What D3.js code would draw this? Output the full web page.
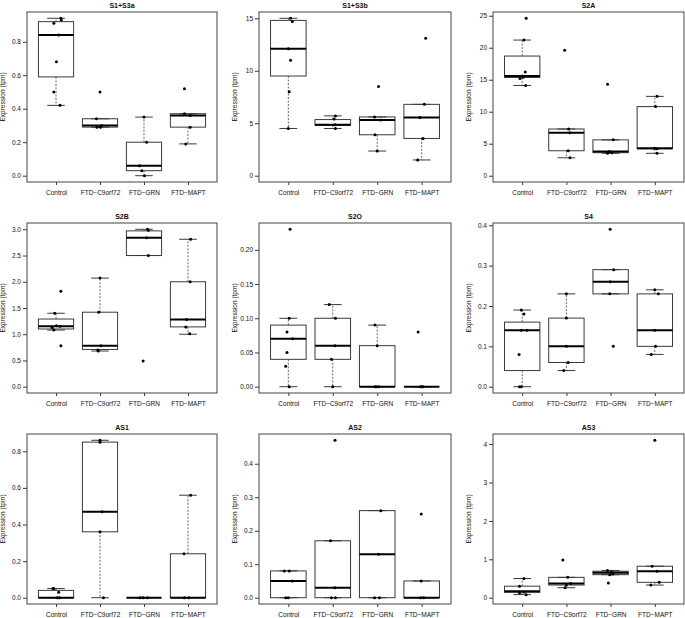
<!DOCTYPE html>
<html>
<head>
<meta charset="utf-8">
<script src="https://cdn.jsdelivr.net/npm/d3@7"></script>
<style>
  html, body { margin: 0; padding: 0; background: #fff; }
  svg { display: block; font-family: "Liberation Sans", Arial, Helvetica, sans-serif; }
</style>
</head>
<body>
<svg id="chart" width="685" height="618"></svg>
<script>
// ---------------- DATA ----------------
const categories = ["Control", "FTD\u2212C9orf72", "FTD\u2212GRN", "FTD\u2212MAPT"];
const panelTitles = ["S1+S3a", "S1+S3b", "S2A", "S2B", "S2O", "S4", "AS1", "AS2", "AS3"];
const yAxisLabel = "Expression (tpm)";

// tick values per panel
const ticks_S1S3a = [0, 0.2, 0.4, 0.6, 0.8];
const ticks_S1S3b = [0, 5, 10, 15];
const ticks_S2A = [0, 5, 10, 15, 20, 25];
const ticks_S2B = [0, 0.5, 1, 1.5, 2, 2.5, 3];
const ticks_S2O = [0, 0.05, 0.1, 0.15, 0.2];
const ticks_S4 = [0, 0.1, 0.2, 0.3, 0.4];
const ticks_AS1 = [0, 0.2, 0.4, 0.6, 0.8];
const ticks_AS2 = [0, 0.1, 0.2, 0.3, 0.4];
const ticks_AS3 = [0, 1, 2, 3, 4];
const tickDecimals = [1, 0, 0, 1, 2, 1, 1, 1, 0];

// box statistics per group: [lower whisker, Q1, median, Q3, upper whisker]
const stats_S1S3a = [[0.42, 0.59, 0.84, 0.92, 0.94], [0.29, 0.29, 0.30, 0.34, 0.34], [0.00, 0.03, 0.06, 0.20, 0.35], [0.19, 0.29, 0.36, 0.37, 0.37]];
const stats_S1S3b = [[4.5, 9.5, 12.1, 14.8, 15.0], [4.5, 4.8, 4.85, 5.35, 5.7], [2.35, 3.9, 5.3, 5.6, 5.6], [1.5, 3.55, 5.55, 6.8, 6.8]];
const stats_S2A = [[14.1, 15.35, 15.6, 18.7, 21.2], [2.8, 3.9, 6.7, 7.3, 7.3], [3.5, 3.6, 3.8, 5.6, 5.6], [3.5, 4.2, 4.3, 10.8, 12.4]];
const stats_S2B = [[1.08, 1.10, 1.15, 1.29, 1.40], [0.68, 0.71, 0.78, 1.42, 2.07], [2.5, 2.5, 2.84, 2.97, 3.0], [1.0, 1.14, 1.28, 2.0, 2.81]];
const stats_S2O = [[0, 0.04, 0.07, 0.09, 0.10], [0, 0.04, 0.06, 0.10, 0.12], [0, 0, 0, 0.06, 0.09], [0, 0, 0, 0, 0]];
const stats_S4 = [[0, 0.04, 0.14, 0.16, 0.19], [0.04, 0.06, 0.10, 0.17, 0.23], [0.23, 0.23, 0.26, 0.29, 0.29], [0.08, 0.10, 0.14, 0.23, 0.24]];
const stats_AS1 = [[0, 0, 0, 0.04, 0.05], [0, 0.36, 0.47, 0.85, 0.86], [0, 0, 0, 0, 0], [0, 0, 0, 0.24, 0.56]];
const stats_AS2 = [[0, 0, 0.05, 0.08, 0.08], [0, 0, 0.03, 0.17, 0.17], [0, 0, 0.13, 0.26, 0.26], [0, 0, 0, 0.05, 0.05]];
const stats_AS3 = [[0.08, 0.14, 0.17, 0.30, 0.50], [0.26, 0.33, 0.37, 0.53, 0.53], [0.60, 0.60, 0.65, 0.69, 0.71], [0.33, 0.40, 0.69, 0.82, 0.82]];

// individual samples per group
const points_S1S3a = [[0.94, 0.93, 0.91, 0.84, 0.68, 0.50, 0.42], [0.50, 0.34, 0.30, 0.29, 0.29], [0.35, 0.20, 0.06, 0.03, 0.00], [0.52, 0.37, 0.36, 0.29, 0.19]];
const points_S1S3b = [[15.0, 14.7, 12.1, 11.0, 8.0, 4.5], [5.7, 5.4, 4.85, 4.5], [8.5, 5.6, 5.3, 3.9, 2.35], [13.1, 6.8, 5.55, 3.55, 1.5]];
const points_S2A = [[24.6, 21.2, 16.2, 15.6, 15.4, 15.2, 14.1], [19.6, 7.3, 6.7, 3.9, 2.8], [14.3, 5.6, 3.8, 3.6, 3.5], [12.4, 10.8, 4.3, 4.2, 3.5]];
const points_S2B = [[1.82, 1.40, 1.16, 1.15, 1.13, 1.08, 0.78], [2.07, 1.42, 0.78, 0.70, 0.68], [3.0, 2.98, 2.84, 2.5, 0.49], [2.81, 2.0, 1.28, 1.14, 1.01]];
const points_S2O = [[0.23, 0.10, 0.08, 0.07, 0.05, 0.03, 0.00], [0.12, 0.10, 0.06, 0.04, 0.00], [0.09, 0.06, 0, 0, 0], [0.08, 0, 0, 0]];
const points_S4 = [[0.19, 0.18, 0.14, 0.14, 0.08, 0, 0], [0.23, 0.17, 0.10, 0.06, 0.04], [0.39, 0.29, 0.26, 0.23, 0.10], [0.24, 0.23, 0.14, 0.10, 0.08]];
const points_AS1 = [[0.05, 0.05, 0.03, 0, 0], [0.86, 0.85, 0.47, 0.36, 0], [0, 0, 0], [0.56, 0.24, 0, 0]];
const points_AS2 = [[0.08, 0.08, 0.05, 0, 0], [0.47, 0.17, 0.03, 0, 0], [0.26, 0.13, 0, 0], [0.25, 0.05, 0, 0]];
const points_AS3 = [[0.50, 0.30, 0.15, 0.12, 0.08], [0.98, 0.53, 0.37, 0.33, 0.26], [0.71, 0.67, 0.62, 0.60, 0.38], [4.1, 0.82, 0.69, 0.40, 0.33]];

// horizontal jitter of each sample (category units)
const jitter_S1S3a = [[0.11, 0.12, -0.05, 0.06, 0.01, -0.05, 0.09], [0, -0.08, 0.04, -0.07, 0.01], [0, 0.06, -0.1, -0.05, 0.01], [-0.08, -0.08, 0.05, 0.05, -0.05]];
const jitter_S1S3b = [[0.05, 0.09, 0, 0.05, 0.02, 0], [0.06, 0.03, 0.05, 0.06], [0.03, -0.06, 0.08, -0.05, 0], [0.09, 0.06, -0.04, 0.03, -0.09]];
const jitter_S2A = [[0.09, 0.04, 0.07, 0, 0.02, -0.05, 0.08], [-0.04, 0.05, 0.08, 0.04, 0.08], [-0.07, 0.06, -0.03, 0.03, -0.07], [0.05, 0.02, -0.01, 0.05, 0.05]];
const jitter_S2B = [[0.11, -0.03, 0.01, 0.09, -0.09, -0.05, 0.11], [0, -0.03, 0.02, -0.05, -0.04], [0.08, 0.1, 0.06, 0.1, -0.02], [0.06, 0.05, -0.03, -0.05, 0.04]];
const jitter_S2O = [[0.04, 0.02, -0.03, 0.1, -0.03, -0.06, 0.02], [-0.08, 0.06, 0.05, -0.03, 0], [-0.05, 0, -0.05, 0.03, -0.02], [-0.08, -0.02, 0.03, 0]];
const jitter_S4 = [[-0.02, 0.04, -0.02, 0.11, -0.07, -0.06, -0.02], [0, 0, 0, 0.04, -0.06], [-0.01, 0.07, -0.01, -0.02, 0.06], [0, 0.08, 0, 0.02, -0.08]];
const jitter_AS1 = [[-0.07, -0.05, 0.06, 0.03, 0.08], [0, 0, 0.05, 0, 0.08], [-0.09, -0.02, 0.08], [0.06, -0.09, -0.08, 0.02]];
const jitter_AS2 = [[-0.09, 0.02, 0.09, -0.06, 0], [0.05, -0.05, 0.05, -0.03, 0.06], [0.08, 0.03, -0.06, 0.05], [-0.01, -0.01, -0.02, 0.05]];
const jitter_AS3 = [[0.04, -0.06, 0.05, -0.06, 0.09], [-0.08, 0.03, 0.1, 0, -0.03], [-0.07, 0.02, 0.05, -0.02, -0.05], [0, -0.06, 0.05, 0.1, -0.09]];

const allTicks = [ticks_S1S3a, ticks_S1S3b, ticks_S2A, ticks_S2B, ticks_S2O, ticks_S4, ticks_AS1, ticks_AS2, ticks_AS3];
const allStats = [stats_S1S3a, stats_S1S3b, stats_S2A, stats_S2B, stats_S2O, stats_S4, stats_AS1, stats_AS2, stats_AS3];
const allPoints = [points_S1S3a, points_S1S3b, points_S2A, points_S2B, points_S2O, points_S4, points_AS1, points_AS2, points_AS3];
const allJitter = [jitter_S1S3a, jitter_S1S3b, jitter_S2A, jitter_S2B, jitter_S2O, jitter_S4, jitter_AS1, jitter_AS2, jitter_AS3];

// ---------------- LAYOUT ----------------
const colLeft = [27, 259, 493];
const colRight = [217, 451, 684];
const rowTop = [12, 223, 434];
const rowBottom = [182, 393, 604];
const lineColor = "#3a3a3a";
const fontSize = 6.5;

const svg = d3.select("#chart");

panelTitles.forEach((title, i) => {
  const col = i % 3, row = Math.floor(i / 3);
  const L = colLeft[col], R = colRight[col], T = rowTop[row], B = rowBottom[row];
  const stats = allStats[i], pts = allPoints[i], jit = allJitter[i];

  const yMax = d3.max([d3.max(stats.flat()), d3.max(pts.flat())]);
  const yMin = 0;
  const span = yMax - yMin;
  const x = d3.scaleLinear().domain([0.34, 4.66]).range([L, R]);
  const y = d3.scaleLinear().domain([yMin - 0.04 * span, yMax + 0.04 * span]).range([B, T]);

  const g = svg.append("g");

  // y axis
  const fmt = d3.format("." + tickDecimals[i] + "f");
  const yAx = g.append("g").attr("transform", `translate(${L},0)`)
    .call(d3.axisLeft(y).tickValues(allTicks[i]).tickSize(4).tickPadding(2).tickFormat(fmt));
  yAx.select(".domain").remove();
  yAx.selectAll("line").attr("stroke", lineColor);
  yAx.selectAll("text").attr("font-size", fontSize).attr("font-family", "Liberation Sans, Arial, sans-serif").attr("fill", "#111");

  // x axis
  const xAx = g.append("g").attr("transform", `translate(0,${B})`)
    .call(d3.axisBottom(x).tickValues([1, 2, 3, 4]).tickSize(3).tickPadding(5).tickFormat(d => categories[d - 1]));
  xAx.select(".domain").remove();
  xAx.selectAll("line").attr("stroke", lineColor);
  xAx.selectAll("text").attr("font-size", fontSize).attr("font-family", "Liberation Sans, Arial, sans-serif").attr("fill", "#111");

  // boxes
  stats.forEach((s, k) => {
    const c = k + 1;
    const [lo, q1, med, q3, hi] = s;
    const x0 = x(c - 0.4), x1 = x(c + 0.4), xc = x(c);
    // whiskers (dashed)
    g.append("line").attr("x1", xc).attr("x2", xc).attr("y1", y(q3)).attr("y2", y(hi))
      .attr("stroke", "#555").attr("stroke-width", 0.9).attr("stroke-dasharray", "2,1.5");
    g.append("line").attr("x1", xc).attr("x2", xc).attr("y1", y(q1)).attr("y2", y(lo))
      .attr("stroke", "#555").attr("stroke-width", 0.9).attr("stroke-dasharray", "2,1.5");
    // staples
    [lo, hi].forEach(v => {
      g.append("line").attr("x1", x(c - 0.2)).attr("x2", x(c + 0.2)).attr("y1", y(v)).attr("y2", y(v))
        .attr("stroke", lineColor).attr("stroke-width", 1);
    });
    // box
    g.append("rect").attr("x", x0).attr("y", y(q3)).attr("width", x1 - x0).attr("height", Math.max(0, y(q1) - y(q3)))
      .attr("fill", "none").attr("stroke", lineColor).attr("stroke-width", 1);
    // median
    g.append("line").attr("x1", x0).attr("x2", x1).attr("y1", y(med)).attr("y2", y(med))
      .attr("stroke", "#000").attr("stroke-width", 2);
  });

  // points
  pts.forEach((arr, k) => {
    g.selectAll(null).data(arr).enter().append("circle")
      .attr("cx", (d, j) => x(k + 1 + jit[k][j]))
      .attr("cy", d => y(d))
      .attr("r", 1.5)
      .attr("fill", "#000");
  });

  // frame
  g.append("rect").attr("x", L).attr("y", T).attr("width", R - L).attr("height", B - T)
    .attr("fill", "none").attr("stroke", "#444").attr("stroke-width", 1);

  // title
  g.append("text").attr("x", (L + R) / 2).attr("y", T - 4).attr("text-anchor", "middle")
    .attr("font-size", 7).attr("font-weight", "bold").attr("fill", "#111").text(title);

  // y label
  g.append("text").attr("transform", `translate(${L - 22},${(T + B) / 2}) rotate(-90)`)
    .attr("text-anchor", "middle").attr("font-size", fontSize).attr("fill", "#111").text(yAxisLabel);
});
</script>
</body>
</html>
